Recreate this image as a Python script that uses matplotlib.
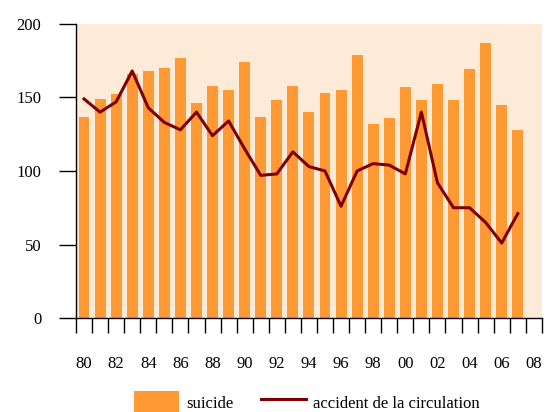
import numpy as np
import matplotlib.pyplot as plt
from matplotlib.ticker import FixedLocator

plt.rcParams['font.family'] = ['Liberation Serif', 'DejaVu Serif']

years = list(range(1980, 2009))
labels = ['80', '82', '84', '86', '88', '90', '92', '94', '96', '98',
          '00', '02', '04', '06', '08']
suicide = [137, 149, 152, 166, 168, 170, 177, 146, 158, 155,
           174, 137, 148, 158, 140, 153, 155, 179, 132, 136,
           157, 148, 159, 148, 169, 187, 145, 128]
accident = [149, 140, 147, 168, 143, 133, 128, 140, 124, 134,
            115, 97, 98, 113, 103, 100, 76, 100, 105, 104,
            98, 140, 92, 75, 75, 65, 51, 71]

fig = plt.figure(figsize=(5.49, 4.12), dpi=100)
ax = fig.add_axes([0.1384, 0.228, 0.8486, 0.714])
ax.set_facecolor('#fdebd8')

x = np.arange(len(suicide))
bars = ax.bar(x, suicide, width=0.68, color='#ff9933', label='suicide', zorder=2)
line, = ax.plot(x, accident, color='#800000', lw=2.2, label='accident de la circulation', zorder=3)

ax.set_xlim(-0.5, len(years) - 0.5)
ax.set_ylim(0, 200)
ax.set_yticks([0, 50, 100, 150, 200])
ax.tick_params(axis='y', length=12, width=1, labelsize=12, pad=13)

ax.set_xticks(np.arange(0, len(years), 2))
ax.set_xticklabels(labels)
ax.xaxis.set_minor_locator(FixedLocator(np.arange(-0.5, len(years), 1)))
ax.tick_params(axis='x', which='major', length=0, labelsize=12, pad=27.5)
ax.tick_params(axis='x', which='minor', length=11, width=1)

for s in ['top', 'right']:
    ax.spines[s].set_visible(False)
ax.spines['left'].set_linewidth(1)
ax.spines['bottom'].set_linewidth(1)

fig.legend([bars, line], ['suicide', 'accident de la circulation'],
           loc='center', bbox_to_anchor=(0.559, 0.024), ncol=2, frameon=False,
           fontsize=12, handlelength=2.7, handleheight=1.6, columnspacing=1.7,
           handletextpad=0.4)

fig.savefig('out.png', dpi=100)
